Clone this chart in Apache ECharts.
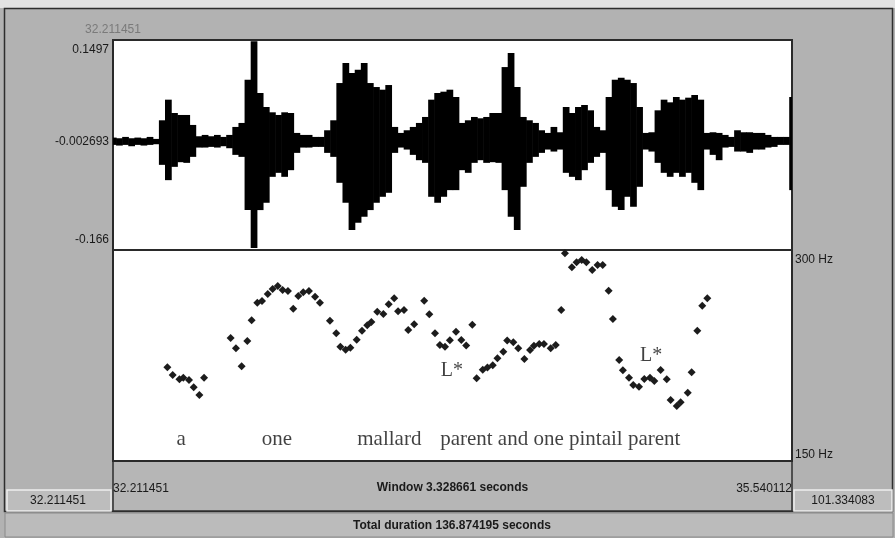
<!DOCTYPE html>
<html>
<head>
<meta charset="utf-8">
<script src="https://cdn.jsdelivr.net/npm/echarts@6.0.0/dist/echarts.min.js"></script>
<style>
  html, body { margin: 0; padding: 0; background: #b2b2b2; }
  #main { width: 895px; height: 538px; }
</style>
</head>
<body>
<div id="main"></div>
<script>
// window shown (seconds)
const tStart = 32.211451;
const tEnd = 35.540112;
const totalDuration = 136.874195;
const fileEnd = 101.334083;

// waveform envelope, one sample every 0.03 s from tStart
const waveStep = 0.03;
const waveTop = [
  0.003, 0.002, 0.004, 0.002, 0.003, 0.002, 0.004, 0.001, 0.029, 0.060,
  0.040, 0.037, 0.037, 0.022, 0.005, 0.007, 0.005, 0.007, 0.004, 0.007,
  0.019, 0.025, 0.090, 0.148, 0.070, 0.049, 0.041, 0.037, 0.041, 0.040,
  0.010, 0.007, 0.007, 0.004, 0.004, 0.014, 0.029, 0.085, 0.115, 0.100,
  0.105, 0.115, 0.085, 0.079, 0.075, 0.082, 0.019, 0.010, 0.014, 0.019,
  0.025, 0.034, 0.060, 0.070, 0.072, 0.075, 0.064, 0.025, 0.029, 0.034,
  0.032, 0.034, 0.040, 0.040, 0.109, 0.130, 0.079, 0.034, 0.029, 0.025,
  0.014, 0.010, 0.019, 0.011, 0.049, 0.040, 0.049, 0.052, 0.044, 0.019,
  0.014, 0.064, 0.090, 0.093, 0.090, 0.085, 0.049, 0.010, 0.011, 0.044,
  0.060, 0.056, 0.064, 0.060, 0.063, 0.067, 0.060, 0.010, 0.011, 0.010,
  0.007, 0.004, 0.014, 0.011, 0.011, 0.010, 0.010, 0.007, 0.004, 0.004,
  0.004, 0.064
];
const waveBot = [
  -0.008, -0.009, -0.008, -0.010, -0.008, -0.009, -0.008, -0.007, -0.038, -0.061,
  -0.041, -0.034, -0.035, -0.026, -0.012, -0.012, -0.011, -0.012, -0.010, -0.013,
  -0.023, -0.026, -0.106, -0.163, -0.106, -0.095, -0.056, -0.050, -0.056, -0.046,
  -0.020, -0.012, -0.012, -0.011, -0.011, -0.020, -0.026, -0.065, -0.095, -0.136,
  -0.125, -0.116, -0.106, -0.095, -0.086, -0.080, -0.020, -0.012, -0.015, -0.023,
  -0.031, -0.035, -0.086, -0.095, -0.086, -0.076, -0.076, -0.046, -0.050, -0.035,
  -0.031, -0.035, -0.034, -0.035, -0.076, -0.116, -0.136, -0.071, -0.035, -0.026,
  -0.020, -0.015, -0.018, -0.015, -0.050, -0.056, -0.061, -0.046, -0.035, -0.026,
  -0.020, -0.076, -0.101, -0.106, -0.086, -0.101, -0.071, -0.015, -0.018, -0.035,
  -0.050, -0.056, -0.050, -0.056, -0.050, -0.065, -0.076, -0.015, -0.023, -0.031,
  -0.012, -0.011, -0.018, -0.018, -0.020, -0.015, -0.015, -0.012, -0.011, -0.008,
  -0.008, -0.076
];
const ampTicks = [-0.166, -0.002693, 0.1497];

// pitch track
const pitchTime = [
  32.478, 32.504, 32.537, 32.556, 32.584, 32.607, 32.635, 32.658,
  32.788, 32.814, 32.842, 32.870, 32.891, 32.919, 32.942, 32.970, 32.994, 33.019,
  33.043, 33.069, 33.095, 33.120, 33.144, 33.172, 33.202, 33.226, 33.275, 33.306,
  33.326, 33.352, 33.375, 33.406, 33.432, 33.458, 33.478, 33.507, 33.537, 33.563,
  33.590, 33.609, 33.638, 33.659, 33.688, 33.737, 33.762, 33.790, 33.814, 33.839,
  33.863, 33.893, 33.919, 33.943, 33.973,
  33.994, 34.024, 34.047, 34.073, 34.096, 34.125, 34.144, 34.174, 34.198, 34.228,
  34.256, 34.275, 34.301, 34.324, 34.357, 34.382, 34.409,
  34.427, 34.461, 34.484, 34.509, 34.532, 34.561, 34.587, 34.612, 34.641, 34.662,
  34.693, 34.711, 34.741, 34.762, 34.790, 34.816, 34.844, 34.865, 34.896, 34.926,
  34.945, 34.975, 34.994, 35.029, 35.048, 35.076, 35.100, 35.125
];
const pitchHz = [
  216.6, 211.1, 208.1, 209.2, 207.6, 202.4, 196.9, 209.2,
  237.4, 230.1, 217.3, 235.3, 250.0, 262.5, 263.7, 268.7, 272.3, 274.4,
  271.6, 270.9, 258.3, 267.3, 269.9, 270.9, 266.8, 262.5, 249.7, 240.8,
  231.3, 229.1, 230.5, 236.2, 242.6, 246.5, 248.8, 256.1, 254.5, 261.4,
  265.7, 256.4, 257.3, 243.1, 247.2, 264.0, 254.4, 240.8, 232.5, 231.3,
  235.8, 241.9, 236.0, 232.1, 246.9,
  208.8, 214.9, 216.5, 218.0, 223.0, 227.7, 235.7, 234.4, 230.1, 222.5,
  228.9, 232.0, 233.2, 233.2, 230.1, 232.5, 257.3,
  297.7, 287.7, 291.3, 292.9, 291.3, 285.8, 289.3, 289.3, 271.0, 250.9,
  221.8, 214.5, 209.2, 204.0, 202.8, 208.3, 209.2, 206.9, 214.7, 208.1,
  193.4, 189.1, 191.7, 198.6, 213.1, 242.6, 260.4, 265.7
];
const hzTicks = [150, 300];

// words and accent labels on the pitch pane
const wordText = ['a', 'one', 'mallard', 'parent and one pintail parent'];
const wordTime = [32.545, 33.015, 33.566, 34.404];
const wordHz = [165.5, 165.5, 165.5, 165.5];
const accentText = ['L*', 'L*'];
const accentTime = [33.873, 34.849];
const accentHz = [214, 224.5];

const chart = echarts.init(document.getElementById('main'));
const sans = 'Liberation Sans, Arial, sans-serif';
const serif = 'Liberation Serif, Times New Roman, serif';

const waveData = waveTop.map((v, i) => [tStart + i * waveStep, v, waveBot[i]]);
const pitchData = pitchTime.map((t, i) => [t, pitchHz[i]]);
const wordData = wordText.map((w, i) => ({ name: w, value: [wordTime[i], wordHz[i]] }));
const accentData = accentText.map((w, i) => ({ name: w, value: [accentTime[i], accentHz[i]] }));

const option = {
  backgroundColor: '#b2b2b2',
  animation: false,
  grid: [
    { left: 113, top: 40, width: 679, height: 210, show: true, backgroundColor: '#fff', borderColor: '#2a2a2a', borderWidth: 2 },
    { left: 113, top: 250, width: 679, height: 211, show: true, backgroundColor: '#fff', borderColor: '#2a2a2a', borderWidth: 2 }
  ],
  xAxis: [
    {
      gridIndex: 0, type: 'value', position: 'top', min: tStart, max: tEnd,
      axisLine: { show: false }, axisTick: { show: false }, splitLine: { show: false },
      axisLabel: {
        customValues: [tStart], formatter: v => v.toFixed(6),
        color: '#7a7a7a', fontFamily: sans, fontSize: 12, margin: 4
      }
    },
    {
      gridIndex: 1, type: 'value', position: 'bottom', min: tStart, max: tEnd,
      axisLine: { show: false }, axisTick: { show: false }, splitLine: { show: false },
      axisLabel: {
        customValues: [tStart, tEnd], formatter: v => v.toFixed(6),
        alignMinLabel: 'left', alignMaxLabel: 'right',
        color: '#1a1a1a', fontFamily: sans, fontSize: 12, margin: 22
      },
      name: 'Window 3.328661 seconds', nameLocation: 'middle', nameGap: 21,
      nameMoveOverlap: false,
      nameTextStyle: { color: '#1a1a1a', fontFamily: sans, fontSize: 12, fontWeight: 'bold' }
    }
  ],
  yAxis: [
    {
      gridIndex: 0, type: 'value', min: ampTicks[0], max: ampTicks[2],
      axisLine: { show: false }, axisTick: { show: false }, splitLine: { show: false },
      axisLabel: {
        customValues: ampTicks, margin: 4,
        formatter: v => v === ampTicks[2] ? '{t|' + v + '}' : v === ampTicks[0] ? '{b|' + v + '}' : '{m|' + v + '}',
        rich: {
          t: { padding: [19, 0, 0, 0], color: '#1a1a1a', fontFamily: sans, fontSize: 12 },
          b: { padding: [0, 0, 20, 0], color: '#1a1a1a', fontFamily: sans, fontSize: 12 },
          m: { color: '#1a1a1a', fontFamily: sans, fontSize: 12 }
        }
      }
    },
    {
      gridIndex: 1, type: 'value', position: 'right', min: hzTicks[0], max: hzTicks[1],
      axisLine: { show: false }, axisTick: { show: false }, splitLine: { show: false },
      axisLabel: {
        customValues: hzTicks, margin: 3,
        formatter: v => v === hzTicks[1] ? '{t|' + v + ' Hz}' : '{b|' + v + ' Hz}',
        rich: {
          t: { padding: [19, 0, 0, 0], color: '#1a1a1a', fontFamily: sans, fontSize: 12 },
          b: { padding: [0, 0, 13, 0], color: '#1a1a1a', fontFamily: sans, fontSize: 12 }
        }
      }
    }
  ],
  series: [
    {
      type: 'custom', xAxisIndex: 0, yAxisIndex: 0, clip: true,
      data: waveData,
      renderItem: (params, api) => {
        const t = api.value(0);
        const p1 = api.coord([t, api.value(1)]);
        const p2 = api.coord([t, api.value(2)]);
        const w = api.size([waveStep, 0])[0];
        return {
          type: 'rect',
          shape: { x: p1[0] - w / 2, y: p1[1], width: w + 0.6, height: p2[1] - p1[1] },
          style: { fill: '#000' }
        };
      }
    },
    {
      type: 'scatter', xAxisIndex: 1, yAxisIndex: 1,
      symbol: 'diamond', symbolSize: 8,
      itemStyle: { color: '#1c1c1c', opacity: 1 },
      data: pitchData
    },
    {
      type: 'scatter', xAxisIndex: 1, yAxisIndex: 1, symbolSize: 0,
      data: wordData,
      label: {
        show: true, position: 'inside', formatter: p => p.name,
        color: '#111', fontFamily: serif, fontSize: 21
      }
    },
    {
      type: 'scatter', xAxisIndex: 1, yAxisIndex: 1, symbolSize: 0,
      data: accentData,
      label: {
        show: true, position: 'inside', formatter: p => p.name,
        color: '#111', fontFamily: serif, fontSize: 20
      }
    }
  ],
  graphic: [
    { type: 'rect', z: -1, shape: { x: 0, y: 0, width: 895, height: 8 }, style: { fill: '#e3e3e3' } },
    { type: 'rect', z: -1, shape: { x: 4.5, y: 8.5, width: 888, height: 503 }, style: { fill: 'none', stroke: '#2e2e2e', lineWidth: 1.5 } },
    { type: 'rect', z: -1, shape: { x: 113, y: 461, width: 679, height: 50 }, style: { fill: '#b6b6b6', stroke: '#2e2e2e', lineWidth: 1.5 } },
    { type: 'rect', shape: { x: 7, y: 490, width: 104, height: 21 }, style: { fill: '#bdbdbd', stroke: '#eeeeee', lineWidth: 1.5 } },
    { type: 'text', x: 58, y: 501, style: { text: tStart.toFixed(6), fill: '#1a1a1a', font: '12px ' + sans, textAlign: 'center', textVerticalAlign: 'middle' } },
    { type: 'rect', shape: { x: 794, y: 490, width: 98, height: 21 }, style: { fill: '#bdbdbd', stroke: '#eeeeee', lineWidth: 1.5 } },
    { type: 'text', x: 843, y: 501, style: { text: fileEnd.toFixed(6), fill: '#1a1a1a', font: '12px ' + sans, textAlign: 'center', textVerticalAlign: 'middle' } },
    { type: 'rect', shape: { x: 5, y: 513, width: 888, height: 24 }, style: { fill: '#bbbbbb', stroke: '#8a8a8a', lineWidth: 1 } },
    { type: 'text', x: 452, y: 526, style: { text: 'Total duration ' + totalDuration.toFixed(6) + ' seconds', fill: '#1a1a1a', font: 'bold 12px ' + sans, textAlign: 'center', textVerticalAlign: 'middle' } }
  ]
};
chart.setOption(option);
</script>
</body>
</html>
